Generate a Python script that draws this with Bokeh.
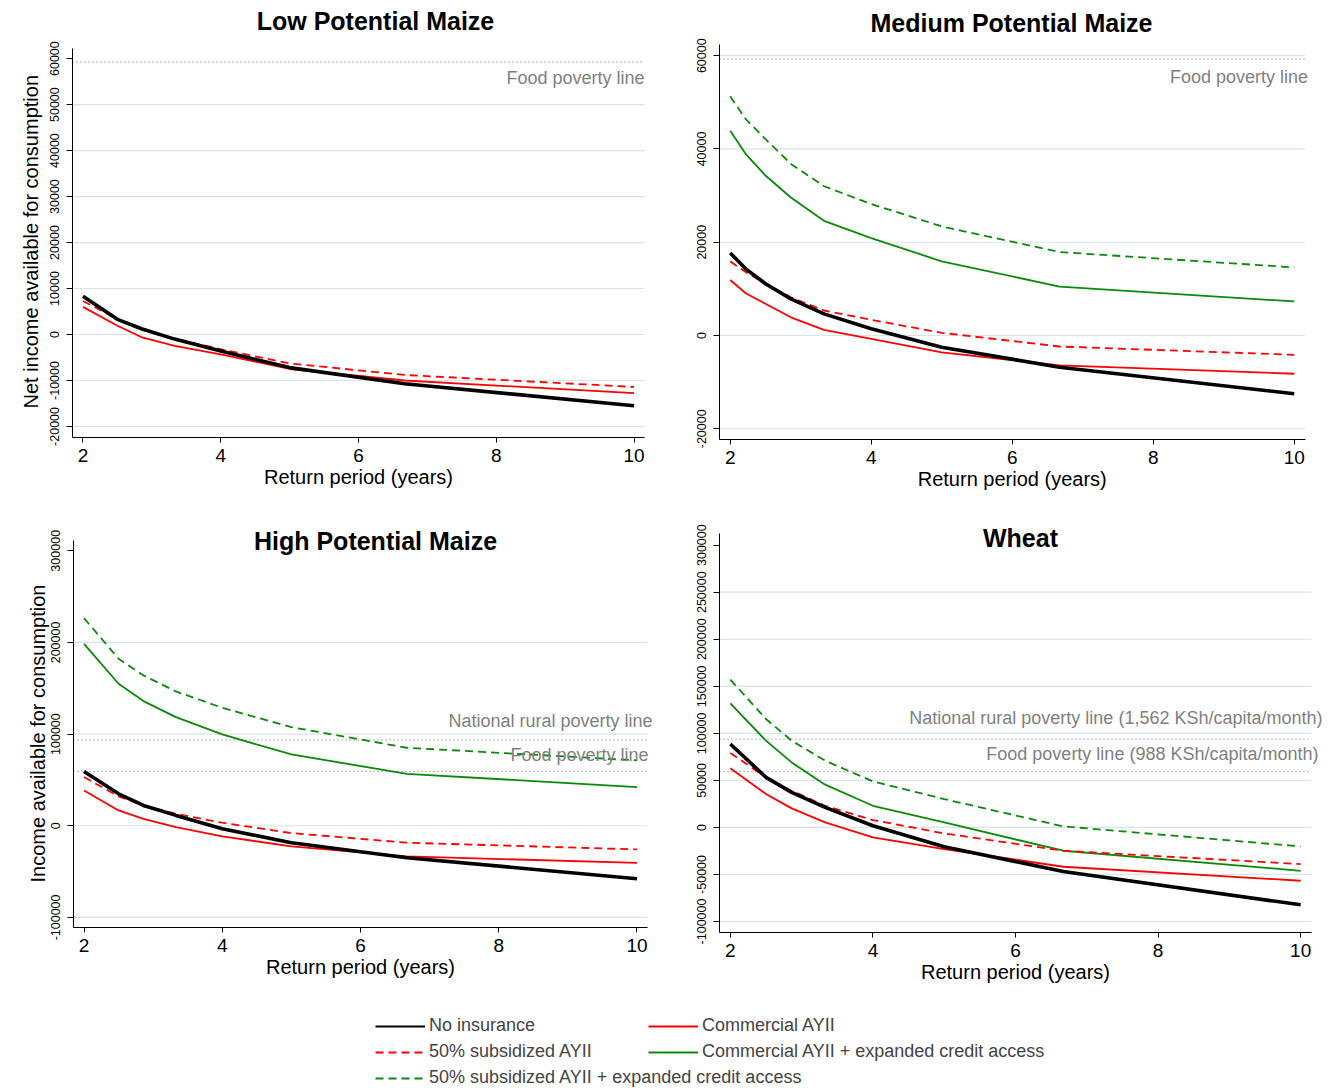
from bokeh.plotting import figure
from bokeh.layouts import column, row
from bokeh.models import (Range1d, FixedTicker, BasicTickFormatter, Label, Title,
                          Legend, LegendItem)
from bokeh.embed import file_html
from bokeh.resources import INLINE

# ---------------- data ----------------
x_med = [2, 2.22, 2.5, 2.86, 3.33, 4, 5, 6.67, 10]
x_std = [2, 2.5, 2.86, 3.33, 4, 5, 6.67, 10]

low_none = [8300, 3300, 1200, -1000, -3600, -7200, -10700, -15500]
low_comm = [6000, 1900, -650, -2460, -4300, -7500, -10000, -12750]
low_sub = [7300, 3300, 1000, -900, -3200, -6300, -8800, -11400]

med_none = [17700, 14300, 11100, 7860, 4640, 1430, -2500, -6800, -12500]
med_comm = [11900, 9070, 6800, 3900, 1200, -700, -3600, -6400, -8200]
med_sub = [15900, 13600, 11100, 8200, 5360, 3360, 570, -2360, -4140]
med_comm_cr = [43900, 38900, 34300, 29600, 24600, 20900, 15900, 10500, 7300]
med_sub_cr = [51300, 46400, 42100, 36800, 32000, 28200, 23400, 17900, 14600]

high_none = [59300, 34900, 22200, 11300, -3300, -18500, -34900, -57800]
high_comm = [38500, 16700, 7600, -1500, -11600, -22500, -33500, -40400]
high_sub = [53100, 32000, 22200, 13100, 3300, -8000, -18500, -25800]
high_comm_cr = [198500, 154900, 136000, 118500, 99600, 77800, 56700, 42200]
high_sub_cr = [226500, 182200, 164000, 146500, 128700, 107600, 85100, 71300]

wh_none = [88700, 53200, 37200, 21300, 1800, -20600, -46800, -82300]
wh_comm = [62800, 35500, 20200, 5300, -10600, -23000, -41800, -56700]
wh_sub = [79100, 53200, 39000, 23000, 7800, -6400, -24800, -39000]
wh_comm_cr = [131900, 92200, 69100, 45400, 23000, 5300, -24800, -46100]
wh_sub_cr = [157100, 115200, 92200, 70900, 48900, 30100, 1100, -20200]

food_line = 59280
rural_line = 93720

x_ticks = [2, 4, 6, 8, 10]
low_ticks = [-20000, -10000, 0, 10000, 20000, 30000, 40000, 50000, 60000]
med_ticks = [-20000, 0, 20000, 40000, 60000]
high_ticks = [-100000, 0, 100000, 200000, 300000]
wh_ticks = [-100000, -50000, 0, 50000, 100000, 150000, 200000, 250000, 300000]

series_labels = ["No insurance", "Commercial AYII", "50% subsidized AYII",
                 "Commercial AYII + expanded credit access",
                 "50% subsidized AYII + expanded credit access"]

FONT = "Liberation Sans"
GRID = "#d7e5ea"
GREY = "#7f7f7f"
RED = "#ff0000"
GREEN = "#0a8a0a"

STYLES = {
    "none": dict(line_color="black", line_width=3.6),
    "comm": dict(line_color=RED, line_width=1.8),
    "sub": dict(line_color=RED, line_width=1.8, line_dash="8 5"),
    "comm_cr": dict(line_color=GREEN, line_width=1.8),
    "sub_cr": dict(line_color=GREEN, line_width=1.8, line_dash="8 5"),
}

XLO, XHI = 1.848, 10.152
XLABEL = "Return period (years)"
XLABEL_W = 189  # rendered width of the x title at 20px


def make_panel(width, height, box, ylim, yticks, grid_ticks, title, title_center,
               ylabel=None, ylabel_len=0, ylabel_center=0, ylabel_standoff=0):
    # box: plot region in px from the figure's top-left (left, right, top, bottom)
    L, R, T, B = box
    ylo, yhi = ylim
    xpx = (R - L) / (XHI - XLO)
    ypx = (B - T) / (yhi - ylo)
    x_end = XHI + (width - R) / xpx
    y_end = yhi + T / ypx
    p = figure(width=width, height=height, output_backend="svg", toolbar_location=None,
               x_range=Range1d(XLO, x_end), y_range=Range1d(ylo, y_end),
               min_border_left=L, min_border_right=0,
               min_border_top=0, min_border_bottom=height - B)
    p.title = None
    p.outline_line_color = None
    p.background_fill_color = "white"
    p.border_fill_color = "white"
    p.grid.visible = False

    # horizontal grid lines across the plot region only
    n = len(grid_ticks)
    p.segment(x0=[XLO] * n, x1=[XHI] * n, y0=grid_ticks, y1=grid_ticks,
              line_color=GRID, line_width=1.2)

    p.xaxis.bounds = (XLO, XHI)
    p.yaxis.bounds = (ylo, yhi)
    p.xaxis.ticker = FixedTicker(ticks=x_ticks)
    p.xaxis.major_label_text_font = FONT
    p.xaxis.major_label_text_font_size = "19px"
    p.xaxis.major_label_standoff = 6
    p.xaxis.major_tick_out = 5
    p.xaxis.major_tick_in = 0
    p.xaxis.minor_tick_out = 0
    p.xaxis.minor_tick_in = 0

    p.yaxis.ticker = FixedTicker(ticks=yticks)
    p.yaxis.formatter = BasicTickFormatter(use_scientific=False)
    p.yaxis.major_label_overrides = {t: str(t) for t in yticks if t < 0}
    p.yaxis.major_label_orientation = "vertical"
    p.yaxis.major_label_text_font = FONT
    p.yaxis.major_label_text_font_size = "12.5px"
    p.yaxis.major_label_standoff = 7
    p.yaxis.major_tick_out = 6
    p.yaxis.major_tick_in = 0
    p.yaxis.minor_tick_out = 0
    p.yaxis.minor_tick_in = 0
    for ax in (p.xaxis, p.yaxis):
        ax.axis_line_color = "black"
        ax.major_tick_line_color = "black"
        ax.major_label_text_color = "black"

    # x axis title centred on the plot region
    p.add_layout(Title(text=XLABEL, align="left",
                       offset=(R - L) / 2 - XLABEL_W / 2, standoff=-1, text_font=FONT,
                       text_font_size="20px", text_font_style="normal",
                       text_color="black"), "below")
    if ylabel:
        bottom_px = ylabel_center + ylabel_len / 2
        p.add_layout(Title(text=ylabel, align="left", offset=B - bottom_px,
                           standoff=ylabel_standoff, text_font=FONT,
                           text_font_size="20px", text_font_style="normal",
                           text_color="black"), "left")

    tcx, tcy = title_center
    p.add_layout(Label(x=XLO, y=yhi, x_offset=tcx - L, y_offset=T - tcy,
                       text=title, text_font=FONT, text_font_style="bold",
                       text_font_size="25px", text_align="center",
                       text_baseline="middle", text_color="black"))
    return p


def add_lines(p, x, data):
    for key, ys in data:
        p.line(x, ys, **STYLES[key])


def add_poverty(p, value, text, xoff, yoff):
    p.segment(x0=[XLO], x1=[XHI], y0=[value], y1=[value], line_color=GREY,
              line_dash="1 3", line_width=1.2)
    p.add_layout(Label(x=XHI, y=value, x_offset=xoff, y_offset=yoff, text=text,
                       text_font=FONT, text_font_size="18px", text_color=GREY,
                       text_align="right", text_baseline="middle"))


# Low potential maize
p1 = make_panel(660, 500, (72, 644, 48, 437), (-22400, 62200), low_ticks,
                [t for t in low_ticks if t != 60000], "Low Potential Maize", (375, 20),
                ylabel="Net income available for consumption", ylabel_len=333,
                ylabel_center=241.5, ylabel_standoff=12)
add_poverty(p1, food_line, "Food poverty line", 0, -16)
add_lines(p1, x_std, [("sub", low_sub), ("comm", low_comm), ("none", low_none)])

# Medium potential maize
p2 = make_panel(677, 500, (59, 644.5, 44, 439), (-22300, 62400), med_ticks, med_ticks,
                "Medium Potential Maize", (351, 22))
add_poverty(p2, food_line, "Food poverty line", 3, -18)
add_lines(p2, x_med, [("sub_cr", med_sub_cr), ("comm_cr", med_comm_cr),
                      ("sub", med_sub), ("comm", med_comm), ("none", med_none)])

# High potential maize
p3 = make_panel(660, 505, (73, 647, 40, 427), (-111000, 311200), high_ticks,
                [t for t in high_ticks if t != 300000], "High Potential Maize", (375, 40),
                ylabel="Income available for consumption", ylabel_len=297,
                ylabel_center=233.5, ylabel_standoff=0)
add_poverty(p3, rural_line, "National rural poverty line", 5, 19)
add_poverty(p3, food_line, "Food poverty line", 1, 16)
add_lines(p3, x_std, [("sub_cr", high_sub_cr), ("comm_cr", high_comm_cr),
                      ("sub", high_sub), ("comm", high_comm), ("none", high_none)])

# Wheat
p4 = make_panel(677, 505, (59, 651, 33, 432), (-111700, 312400), wh_ticks,
                [t for t in wh_ticks if t != 300000], "Wheat", (360, 37))
add_poverty(p4, rural_line, "National rural poverty line (1,562 KSh/capita/month)", 11, 21)
add_poverty(p4, food_line, "Food poverty line (988 KSh/capita/month)", 7, 18)
add_lines(p4, x_std, [("sub_cr", wh_sub_cr), ("comm_cr", wh_comm_cr),
                      ("sub", wh_sub), ("comm", wh_comm), ("none", wh_none)])

# Legend strip (renderers hold real series but lie outside this strip's ranges)
pl = figure(width=1337, height=83, output_backend="svg", toolbar_location=None,
            x_range=Range1d(100, 101), y_range=Range1d(1e7, 1e7 + 1),
            min_border_left=0, min_border_right=0, min_border_top=0, min_border_bottom=0)
pl.title = None
pl.axis.visible = False
pl.grid.visible = False
pl.outline_line_color = None
keys = ["none", "comm", "sub", "comm_cr", "sub_cr"]
leg_series = [wh_none, wh_comm, wh_sub, wh_comm_cr, wh_sub_cr]
rends = {}
for k, ys in zip(keys, leg_series):
    st = dict(STYLES[k])
    if k == "none":
        st["line_width"] = 2.2
    rends[k] = pl.line(x_std, ys, **st)


def legend_for(items, x, y):
    lg = Legend(items=[LegendItem(label=series_labels[keys.index(k)], renderers=[rends[k]])
                       for k in items],
                location=(x, y), orientation="vertical",
                glyph_width=50, glyph_height=20, label_height=20, label_standoff=4,
                spacing=5, padding=0, margin=0,
                label_text_font=FONT, label_text_font_size="18px",
                background_fill_alpha=0, border_line_color=None)
    pl.add_layout(lg, "center")


legend_for(["none", "sub", "sub_cr"], 375, 0)
legend_for(["comm", "comm_cr"], 648, 26)

layout = column(row(column(p1), column(p2)), row(column(p3), column(p4)), pl)
open("out.html", "w").write(file_html(layout, INLINE))
